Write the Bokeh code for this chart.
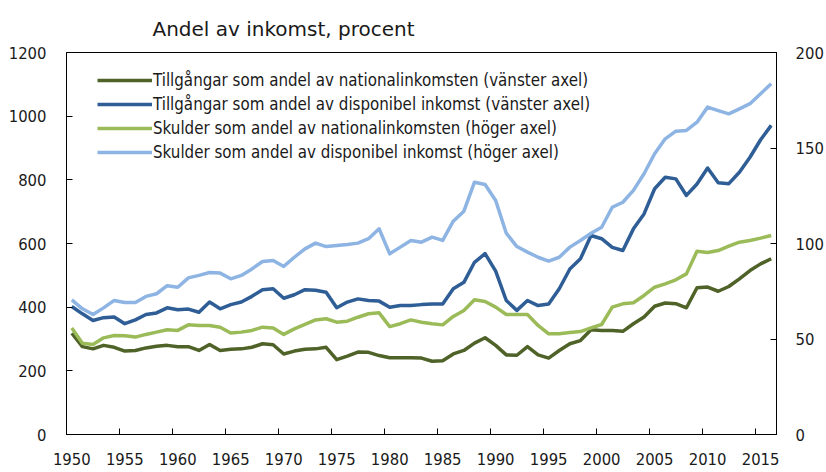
from bokeh.plotting import figure
from bokeh.models import (Range1d, LinearAxis, FixedTicker, Legend, LegendItem, Title)
from bokeh.embed import file_html
from bokeh.resources import INLINE

years = list(range(1950, 2017))

tillg_nat = [318, 276, 269, 280, 274, 262, 264, 272, 277, 280,
             276, 276, 264, 283, 264, 268, 269, 274, 285, 282,
             253, 262, 268, 269, 274, 235, 246, 259, 258, 248,
             241, 241, 241, 240, 230, 232, 253, 264, 287, 304,
             280, 250, 249, 276, 250, 240, 264, 285, 295, 329,
             327, 327, 324, 348, 369, 403, 413, 411, 398, 461,
             463, 450, 465, 489, 515, 536, 552]

tillg_disp = [402, 379, 358, 367, 369, 348, 360, 377, 382, 398,
              392, 394, 384, 416, 395, 408, 416, 434, 455, 458,
              428, 439, 455, 453, 447, 398, 416, 426, 421, 419,
              400, 405, 405, 408, 410, 410, 458, 478, 541, 568,
              513, 421, 390, 421, 405, 410, 458, 520, 552, 625,
              615, 588, 578, 646, 693, 772, 808, 803, 751, 787,
              837, 791, 788, 824, 871, 926, 971]

skuld_nat = [55.7, 47.8, 47.1, 50.6, 51.8, 51.7, 51.0, 52.4, 53.6, 54.8,
             54.5, 57.4, 57.1, 57.1, 56.2, 53.1, 53.6, 54.5, 56.2, 55.8,
             52.4, 55.3, 57.6, 60.0, 60.6, 58.8, 59.3, 61.4, 63.2, 63.7,
             56.5, 58.0, 60.0, 58.8, 58.0, 57.4, 61.8, 64.9, 70.5, 69.6,
             66.7, 62.8, 62.8, 62.8, 57.1, 52.7, 52.7, 53.4, 53.9, 55.8,
             57.6, 66.7, 68.4, 69.0, 72.8, 77.1, 78.9, 81.0, 84.1, 96.0,
             95.3, 96.3, 98.6, 100.7, 101.6, 102.8, 104.2]

skuld_disp = [70.5, 65.8, 62.8, 66.3, 70.2, 69.1, 69.1, 72.3, 73.7, 77.9,
              77.1, 82.0, 83.3, 84.8, 84.5, 81.5, 83.3, 86.7, 90.6, 91.1,
              88.0, 92.8, 97.2, 100.2, 98.4, 99.0, 99.5, 100.2, 102.5, 107.7,
              94.6, 98.1, 101.6, 100.7, 103.3, 101.6, 111.7, 116.9, 132.1, 130.9,
              122.5, 105.4, 98.4, 95.5, 92.8, 90.8, 92.8, 98.1, 101.6, 105.4,
              108.5, 119.0, 121.6, 127.8, 136.5, 147.0, 154.8, 158.8, 159.2, 163.5,
              171.4, 169.6, 167.9, 170.5, 173.2, 178.4, 183.6]

labels = ["Tillgångar som andel av nationalinkomsten (vänster axel)",
          "Tillgångar som andel av disponibel inkomst (vänster axel)",
          "Skulder som andel av nationalinkomsten (höger axel)",
          "Skulder som andel av disponibel inkomst (höger axel)"]
colors = ["#4F6228", "#2E5E95", "#9BBB59", "#8DB4E2"]
title_text = "Andel av inkomst, procent"

left_ticks = [0, 200, 400, 600, 800, 1000, 1200]
right_ticks = [0, 50, 100, 150, 200]
x_label_years = list(range(1950, 2016, 5))

NARROW = "'DejaVu Sans Condensed', sans-serif"

p = figure(width=826, height=472, output_backend="svg", toolbar_location=None,
           x_range=Range1d(1949.5, 2016.5), y_range=Range1d(0, 1200),
           min_border_left=66, min_border_right=49, min_border_top=52, min_border_bottom=38,
           background_fill_color="white", border_fill_color="white")
p.extra_y_ranges = {"right": Range1d(0, 200)}

p.outline_line_color = "black"
p.outline_line_width = 1
p.xgrid.visible = False
p.ygrid.visible = False

p.title = Title(text=title_text, align="left", offset=86,
                text_font="DejaVu Sans", text_font_size="20px", text_font_style="normal",
                text_color="#1a1a1a", standoff=24)

def style_axis(ax, standoff):
    ax.axis_line_color = "black"
    ax.axis_line_width = 1
    ax.major_tick_line_color = "black"
    ax.major_tick_in = 6
    ax.major_tick_out = 0
    ax.minor_tick_line_color = None
    ax.major_label_text_font = NARROW
    ax.major_label_text_font_size = "16.5px"
    ax.major_label_text_color = "#1a1a1a"
    ax.major_label_standoff = standoff

# x axis: labels at the years, tick marks between categories
xax = p.xaxis[0]
xax.ticker = FixedTicker(ticks=x_label_years,
                         minor_ticks=[y - 0.5 for y in x_label_years])
style_axis(xax, 18)
xax.major_tick_line_color = None
xax.minor_tick_line_color = "black"
xax.minor_tick_in = 6
xax.minor_tick_out = 0

yax = p.yaxis[0]
yax.ticker = FixedTicker(ticks=left_ticks)
style_axis(yax, 20)

rax = LinearAxis(y_range_name="right", ticker=FixedTicker(ticks=right_ticks))
style_axis(rax, 19)
p.add_layout(rax, "right")

r1 = p.line(years, tillg_nat, line_color=colors[0], line_width=3.5, line_join="round")
r2 = p.line(years, tillg_disp, line_color=colors[1], line_width=3.5, line_join="round")
r3 = p.line(years, skuld_nat, line_color=colors[2], line_width=3.5, line_join="round",
            y_range_name="right")
r4 = p.line(years, skuld_disp, line_color=colors[3], line_width=3.5, line_join="round",
            y_range_name="right")

legend = Legend(items=[LegendItem(label=labels[i], renderers=[r])
                       for i, r in enumerate([r1, r2, r3, r4])],
                location=(31, 270), padding=0, margin=0, spacing=0,
                glyph_width=55, glyph_height=24, label_height=24, label_standoff=1,
                label_text_font=NARROW, label_text_font_size="16.8px",
                label_text_color="#1a1a1a",
                background_fill_alpha=0, border_line_alpha=0)
p.add_layout(legend, "center")

open("out.html", "w").write(file_html(p, INLINE))
